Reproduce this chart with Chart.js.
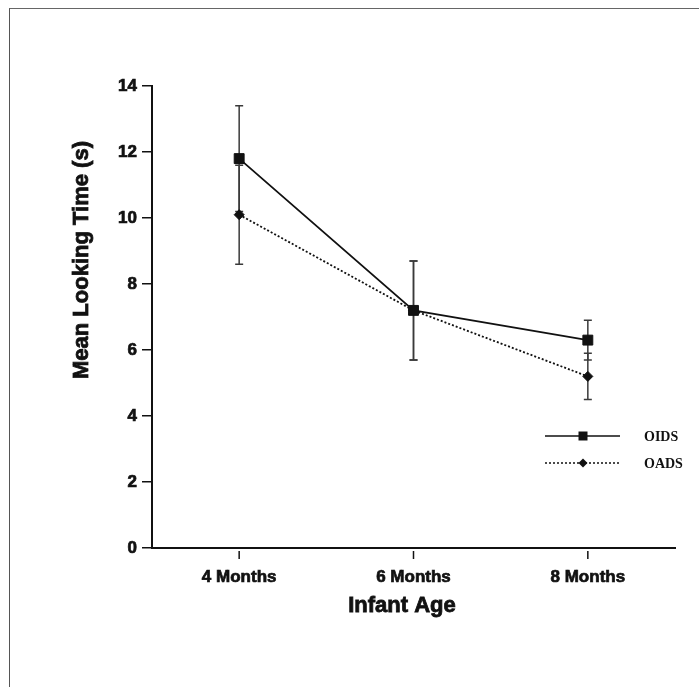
<!DOCTYPE html>
<html>
<head>
<meta charset="utf-8">
<script src="https://cdn.jsdelivr.net/npm/chart.js@4"></script>
<style>
    html, body { margin: 0; padding: 0; background: #fff; }
    #wrap { position: relative; width: 699px; height: 687px; overflow: hidden; }
    #frame {
        position: absolute; left: 9px; top: 8px; right: -2px; bottom: -2px;
        border-left: 1px solid #555; border-top: 1px solid #666;
    }
    #chart { position: absolute; left: 0; top: 0; }
</style>
</head>
<body>
<div id="wrap">
    <div id="frame"></div>
    <canvas id="chart" width="699" height="687"></canvas>
</div>
<script>
/* ============================================
   Mean looking time by infant age
   ============================================ */
const ages = ['4 Months', '6 Months', '8 Months'];
const oidsMean = [11.8, 7.2, 6.3];
const oidsErr = [1.6, 1.5, 0.6];
const oadsMean = [10.1, 7.2, 5.2];
const oadsErr = [1.5, 1.5, 0.7];
const yTicks = [0, 2, 4, 6, 8, 10, 12, 14];

const INK = '#111';
const SANS = "'Liberation Sans', Arial, sans-serif";
const SERIF = "'Liberation Serif', 'Times New Roman', serif";

// Error bars, detached x ticks, axis titles and the legend
const extras = {
    id: 'extras',
    beforeDatasetsDraw(chart) {
        const { ctx, scales: { x, y } } = chart;
        ctx.save();
        ctx.strokeStyle = '#3a3a3a';
        ctx.lineWidth = 1.5;
        chart.data.datasets.forEach(ds => {
            ds.data.forEach((v, i) => {
                const px = x.getPixelForValue(i);
                const top = y.getPixelForValue(v + ds.err[i]);
                const bot = y.getPixelForValue(v - ds.err[i]);
                ctx.beginPath();
                ctx.moveTo(px, top); ctx.lineTo(px, bot);
                ctx.moveTo(px - 4, top); ctx.lineTo(px + 4, top);
                ctx.moveTo(px - 4, bot); ctx.lineTo(px + 4, bot);
                ctx.stroke();
            });
        });
        ctx.restore();
    },
    afterDraw(chart) {
        const { ctx, chartArea: area, scales: { x } } = chart;
        ctx.save();

        // x ticks sit a little below the axis line
        ctx.strokeStyle = INK;
        ctx.lineWidth = 1.5;
        ages.forEach((_, i) => {
            const px = x.getPixelForValue(i);
            ctx.beginPath();
            ctx.moveTo(px, area.bottom + 3);
            ctx.lineTo(px, area.bottom + 11);
            ctx.stroke();
        });

        // axis titles (a thin stroke gives the heavy look of the original)
        ctx.fillStyle = INK;
        ctx.strokeStyle = INK;
        ctx.lineWidth = 0.8;
        ctx.font = `bold 22px ${SANS}`;
        ctx.textAlign = 'center';
        ctx.textBaseline = 'middle';
        ctx.fillText('Infant Age', area.left + 250, area.bottom + 58);
        ctx.strokeText('Infant Age', area.left + 250, area.bottom + 58);
        ctx.translate(82, area.top + 174);
        ctx.rotate(-Math.PI / 2);
        ctx.fillText('Mean Looking Time (s)', 0, 0);
        ctx.strokeText('Mean Looking Time (s)', 0, 0);
        ctx.setTransform(1, 0, 0, 1, 0, 0);

        // legend
        const lx0 = area.right - 130, lx1 = area.right - 55, lm = area.right - 92;
        chart.data.datasets.forEach((ds, i) => {
            const ly = area.bottom - 112 + i * 27;
            ctx.strokeStyle = INK;
            ctx.lineWidth = 1.6;
            ctx.setLineDash(ds.borderDash || []);
            ctx.beginPath();
            ctx.moveTo(lx0, ly); ctx.lineTo(lx1, ly);
            ctx.stroke();
            ctx.setLineDash([]);
            ctx.fillStyle = INK;
            ctx.beginPath();
            if (ds.pointStyle === 'rect') {
                ctx.rect(lm - 4.5, ly - 4.5, 9, 9);
            } else {
                ctx.moveTo(lm, ly - 4.5); ctx.lineTo(lm + 4.5, ly);
                ctx.lineTo(lm, ly + 4.5); ctx.lineTo(lm - 4.5, ly);
                ctx.closePath();
            }
            ctx.fill();
            ctx.font = `bold 14px ${SERIF}`;
            ctx.textAlign = 'left';
            ctx.fillText(ds.label, area.right - 31, ly + 1);
        });
        ctx.restore();
    }
};

const tickFont = { family: SANS, size: 17, weight: 'bold' };

new Chart(document.getElementById('chart'), {
    type: 'line',
    data: {
        labels: ages,
        datasets: [
            {
                label: 'OIDS',
                data: oidsMean,
                err: oidsErr,
                borderColor: INK,
                borderWidth: 1.8,
                pointStyle: 'rect',
                pointRadius: 7,
                pointBackgroundColor: INK,
                pointBorderColor: INK,
                pointBorderWidth: 1,
                tension: 0
            },
            {
                label: 'OADS',
                data: oadsMean,
                err: oadsErr,
                borderColor: INK,
                borderWidth: 1.8,
                borderDash: [2, 2],
                pointStyle: 'rectRot',
                pointRadius: 5,
                pointBackgroundColor: INK,
                pointBorderColor: INK,
                pointBorderWidth: 1,
                tension: 0
            }
        ]
    },
    options: {
        responsive: false,
        animation: false,
        layout: { padding: { left: 0, right: 24, top: 86, bottom: 0 } },
        plugins: {
            legend: { display: false },
            tooltip: { enabled: false }
        },
        scales: {
            x: {
                offset: true,
                grid: { display: false, drawTicks: false },
                border: { display: true, color: INK, width: 2 },
                ticks: {
                    padding: 19,
                    color: INK,
                    textStrokeColor: INK,
                    textStrokeWidth: 0.7,
                    font: tickFont
                },
                afterFit: s => { s.height = 139; }
            },
            y: {
                min: 0,
                max: 14,
                afterBuildTicks: s => { s.ticks = yTicks.map(v => ({ value: v })); },
                grid: {
                    drawOnChartArea: false,
                    drawTicks: true,
                    tickLength: 10,
                    color: INK,
                    lineWidth: 1.5
                },
                border: { display: true, color: INK, width: 2 },
                ticks: {
                    padding: 5,
                    color: INK,
                    textStrokeColor: INK,
                    textStrokeWidth: 0.7,
                    font: tickFont
                },
                afterFit: s => { s.width = 152; }
            }
        }
    },
    plugins: [extras]
});
</script>
</body>
</html>
